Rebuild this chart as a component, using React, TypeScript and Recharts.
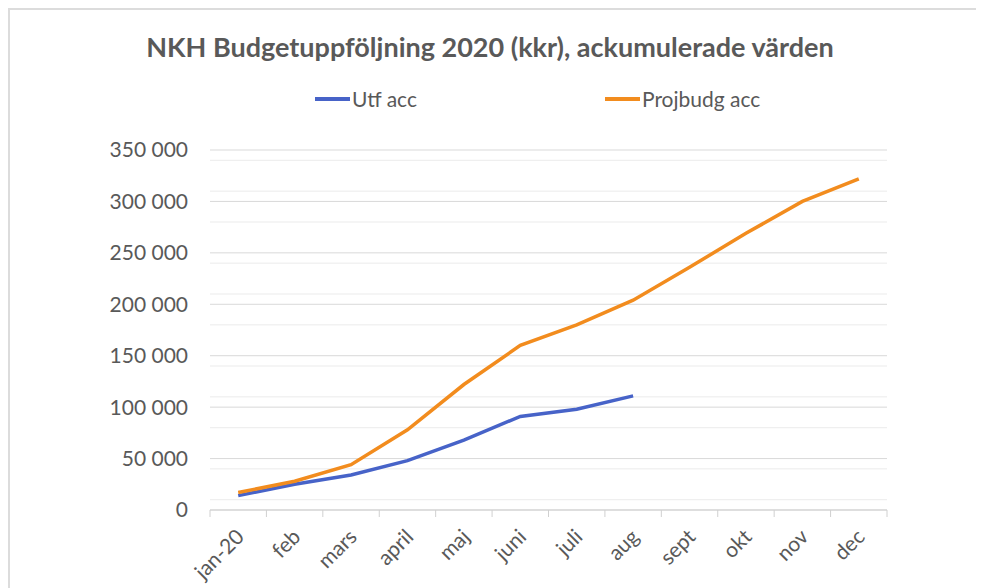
import React from "react"
import { CartesianGrid, Legend, Line, LineChart, XAxis, YAxis } from "recharts"

const months = ["jan-20", "feb", "mars", "april", "maj", "juni", "juli", "aug", "sept", "okt", "nov", "dec"]
const utfAcc = [14000, 25000, 34000, 48000, 68000, 91000, 98000, 111000, null, null, null, null]
const projbudgAcc = [17000, 28000, 44000, 78000, 122000, 160000, 180000, 204000, 236000, 269000, 300000, 322000]
const yTicks = [0, 50000, 100000, 150000, 200000, 250000, 300000, 350000]
const minorStep = 10000

const data = months.map((m, i) => ({ month: m, utf: utfAcc[i], proj: projbudgAcc[i] }))

const minorValues: number[] = []
for (let v = 0; v <= 350000; v += minorStep) {
  if (v % 50000 !== 0) minorValues.push(v)
}

const textColor = "#595959"
const font = "Lato, 'Open Sans', sans-serif"
const plotWidth = 677
const band = plotWidth / months.length

const fmt = (v: number) => String(v).replace(/\B(?=(\d{3})+(?!\d))/g, " ")

function MonthTick(props: any) {
  const { x, y, payload, index } = props
  const last = index === months.length - 1
  return (
    <g transform={`translate(${x},${y})`}>
      <line x1={-band / 2} y1={0} x2={-band / 2} y2={7} stroke="#d0d0d0" />
      {last && <line x1={band / 2} y1={0} x2={band / 2} y2={7} stroke="#d0d0d0" />}
      <text
        x={2}
        y={23}
        dy="0.35em"
        textAnchor="end"
        transform="rotate(-45, 2, 23)"
        fill={textColor}
        fontSize={21}
        fontFamily={font}
      >
        {payload.value}
      </text>
    </g>
  )
}

function LegendContent(props: any) {
  const items = [...(props.payload || [])].sort((a: any, b: any) => (a.dataKey === "utf" ? -1 : b.dataKey === "utf" ? 1 : 0))
  return (
    <div style={{ position: "relative", height: 26, fontFamily: font, fontSize: 21, color: textColor }}>
      {items.map((it: any, i: number) => (
        <div
          key={it.value}
          style={{ position: "absolute", left: i === 0 ? 305 : 595, top: 0, display: "flex", alignItems: "center", whiteSpace: "nowrap" }}
        >
          <span style={{ display: "inline-block", width: 35, height: 4, background: it.color, marginRight: 2 }} />
          <span>{it.value}</span>
        </div>
      ))}
    </div>
  )
}

export default function App() {
  return (
    <div
      style={{
        position: "relative",
        width: 974,
        height: 578,
        borderTop: "2px solid #dcdcdc",
        borderLeft: "2px solid #dcdcdc",
        background: "#fff",
      }}
    >
      <div
        style={{
          position: "absolute",
          top: 22,
          left: 0,
          width: 960,
          textAlign: "center",
          fontFamily: font,
          fontWeight: 700,
          fontSize: 27,
          color: textColor,
          lineHeight: "30px",
        }}
      >
        NKH Budgetuppföljning 2020 (kkr), ackumulerade värden
      </div>
      <LineChart width={974} height={578} data={data} margin={{ top: 140, right: 97, bottom: 0, left: 0 }}>
        <CartesianGrid vertical={false} horizontalValues={minorValues} stroke="#ebebeb" />
        <CartesianGrid vertical={false} horizontalValues={yTicks} stroke="#d9d9d9" />
        <XAxis
          dataKey="month"
          height={78}
          interval={0}
          tickSize={0}
          tickMargin={0}
          padding={{ left: band / 2, right: band / 2 }}
          stroke="#d0d0d0"
          tick={<MonthTick />}
        />
        <YAxis
          width={200}
          domain={[0, 350000]}
          ticks={yTicks}
          tickFormatter={fmt}
          axisLine={false}
          tickLine={false}
          tickSize={0}
          tickMargin={22}
          tick={{ fill: textColor, fontSize: 21, fontFamily: font }}
        />
        <Legend
          layout="horizontal"
          verticalAlign="middle"
          align="center"
          wrapperStyle={{ top: 76, left: 0, width: 974 }}
          content={<LegendContent />}
        />
        <Line
          type="linear"
          dataKey="utf"
          name="Utf acc"
          stroke="#4763c8"
          strokeWidth={3.5}
          dot={false}
          isAnimationActive={false}
        />
        <Line
          type="linear"
          dataKey="proj"
          name="Projbudg acc"
          stroke="#f28c1e"
          strokeWidth={3.5}
          dot={false}
          isAnimationActive={false}
        />
      </LineChart>
    </div>
  )
}
